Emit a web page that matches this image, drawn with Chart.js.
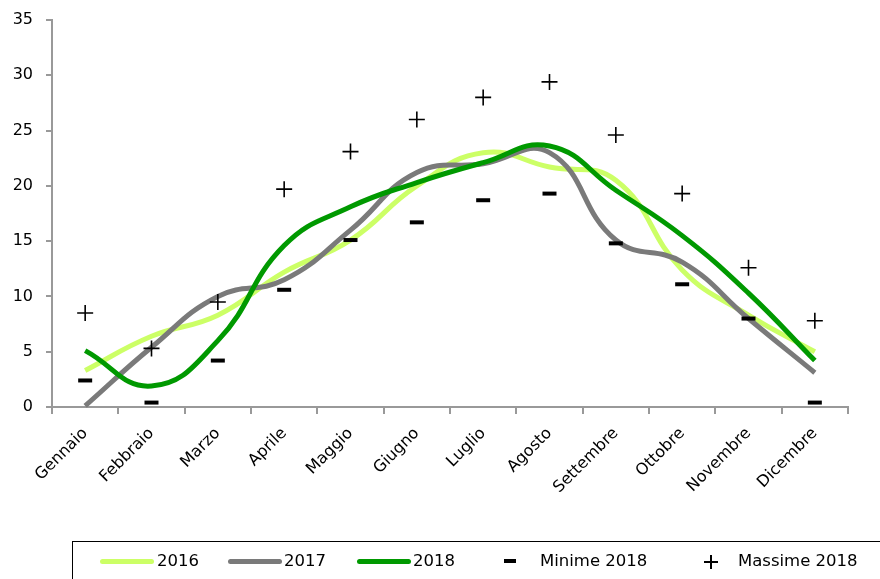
<!DOCTYPE html>
<html>
<head>
<meta charset="utf-8">
<script src="https://cdn.jsdelivr.net/npm/chart.js@4"></script>
<style>
  html, body { margin: 0; padding: 0; background: #fff; }
  #wrap { position: relative; width: 880px; height: 579px; }
  #legend {
    position: absolute; left: 72px; top: 541px; width: 830px; height: 44px;
    border: 1px solid #000; box-sizing: border-box;
    font-family: "DejaVu Sans", sans-serif; font-size: 16.5px; color: #000;
  }
  .item { position: absolute; top: 9px; line-height: 20px; white-space: nowrap; }
  .sw { position: absolute; top: 17px; width: 54px; height: 5px; border-radius: 3px; }
  .dash { position: absolute; top: 17px; width: 12px; height: 4px; background: #000; }
  .plus { position: absolute; top: 13px; width: 14px; height: 14px; }
  .plus::before { content: ""; position: absolute; left: 0; top: 6px; width: 14px; height: 1.6px; background: #000; }
  .plus::after { content: ""; position: absolute; left: 6px; top: 0; width: 1.6px; height: 14px; background: #000; }
</style>
</head>
<body>
<div id="wrap">
  <canvas id="tempChart" width="880" height="579"></canvas>
  <div id="legend">
    <span class="sw" style="left:27px;background:#ccff66"></span><span class="item" style="left:84px">2016</span>
    <span class="sw" style="left:155px;background:#7a7a7a"></span><span class="item" style="left:211px">2017</span>
    <span class="sw" style="left:284px;background:#009900"></span><span class="item" style="left:340px">2018</span>
    <span class="dash" style="left:431px"></span><span class="item" style="left:467px">Minime 2018</span>
    <span class="plus" style="left:631px"></span><span class="item" style="left:665px">Massime 2018</span>
  </div>
</div>
<script>
const months = ['Gennaio', 'Febbraio', 'Marzo', 'Aprile', 'Maggio', 'Giugno', 'Luglio', 'Agosto', 'Settembre', 'Ottobre', 'Novembre', 'Dicembre'];
const temp2016 = [3.3, 6.4, 8.3, 12.2, 15.1, 20.0, 23.0, 21.7, 20.5, 12.4, 8.3, 5.0];
const temp2017 = [0.1, 5.4, 10.0, 11.5, 16.0, 21.2, 22.0, 23.0, 15.1, 13.1, 8.0, 3.1];
const temp2018 = [5.1, 1.9, 6.0, 14.6, 18.1, 20.3, 22.1, 23.6, 19.6, 15.5, 10.3, 4.2];
const minime2018 = [2.4, 0.4, 4.2, 10.6, 15.1, 16.7, 18.7, 19.3, 14.8, 11.1, 8.0, 0.4];
const massime2018 = [8.5, 5.3, 9.5, 19.7, 23.1, 26.0, 28.0, 29.4, 24.6, 19.3, 12.6, 7.8];

const tickFont = { family: 'DejaVu Sans', size: 16 };

const ctx = document.getElementById('tempChart').getContext('2d');
new Chart(ctx, {
  type: 'line',
  data: {
    labels: months,
    datasets: [
      {
        label: 'Minime 2018',
        data: minime2018,
        showLine: false,
        pointStyle: 'line',
        pointRadius: 7,
        pointBorderWidth: 4,
        pointBorderColor: '#000',
        pointBackgroundColor: '#000',
        order: 0
      },
      {
        label: 'Massime 2018',
        data: massime2018,
        showLine: false,
        pointStyle: 'cross',
        pointRadius: 8,
        pointBorderWidth: 1.6,
        pointBorderColor: '#000',
        order: 0
      },
      {
        label: '2018',
        data: temp2018,
        borderColor: '#009900',
        borderWidth: 5,
        tension: 0.45,
        pointRadius: 0,
        order: 1
      },
      {
        label: '2017',
        data: temp2017,
        borderColor: '#7a7a7a',
        borderWidth: 5,
        tension: 0.45,
        pointRadius: 0,
        order: 2
      },
      {
        label: '2016',
        data: temp2016,
        borderColor: '#ccff66',
        borderWidth: 5,
        tension: 0.45,
        pointRadius: 0,
        order: 3
      }
    ]
  },
  options: {
    responsive: false,
    animation: false,
    clip: false,
    layout: { padding: { top: 20, right: 32, left: 0, bottom: 0 } },
    plugins: {
      legend: { display: false },
      tooltip: { enabled: false }
    },
    scales: {
      x: {
        offset: true,
        grid: { offset: true, drawOnChartArea: false, tickLength: 7, color: '#999', lineWidth: 2 },
        border: { color: '#999', width: 2 },
        ticks: { color: '#000', font: tickFont, minRotation: 45, maxRotation: 45, padding: 10 },
        afterFit: scale => { scale.height = 172; }
      },
      y: {
        min: 0,
        max: 35,
        ticks: { stepSize: 5, color: '#000', font: tickFont, padding: 13 },
        grid: { drawOnChartArea: false, tickLength: 6, color: '#999', lineWidth: 2 },
        border: { color: '#999', width: 2 },
        afterFit: scale => { scale.width = 52; scale.paddingTop = 0; }
      }
    }
  }
});
</script>
</body>
</html>
